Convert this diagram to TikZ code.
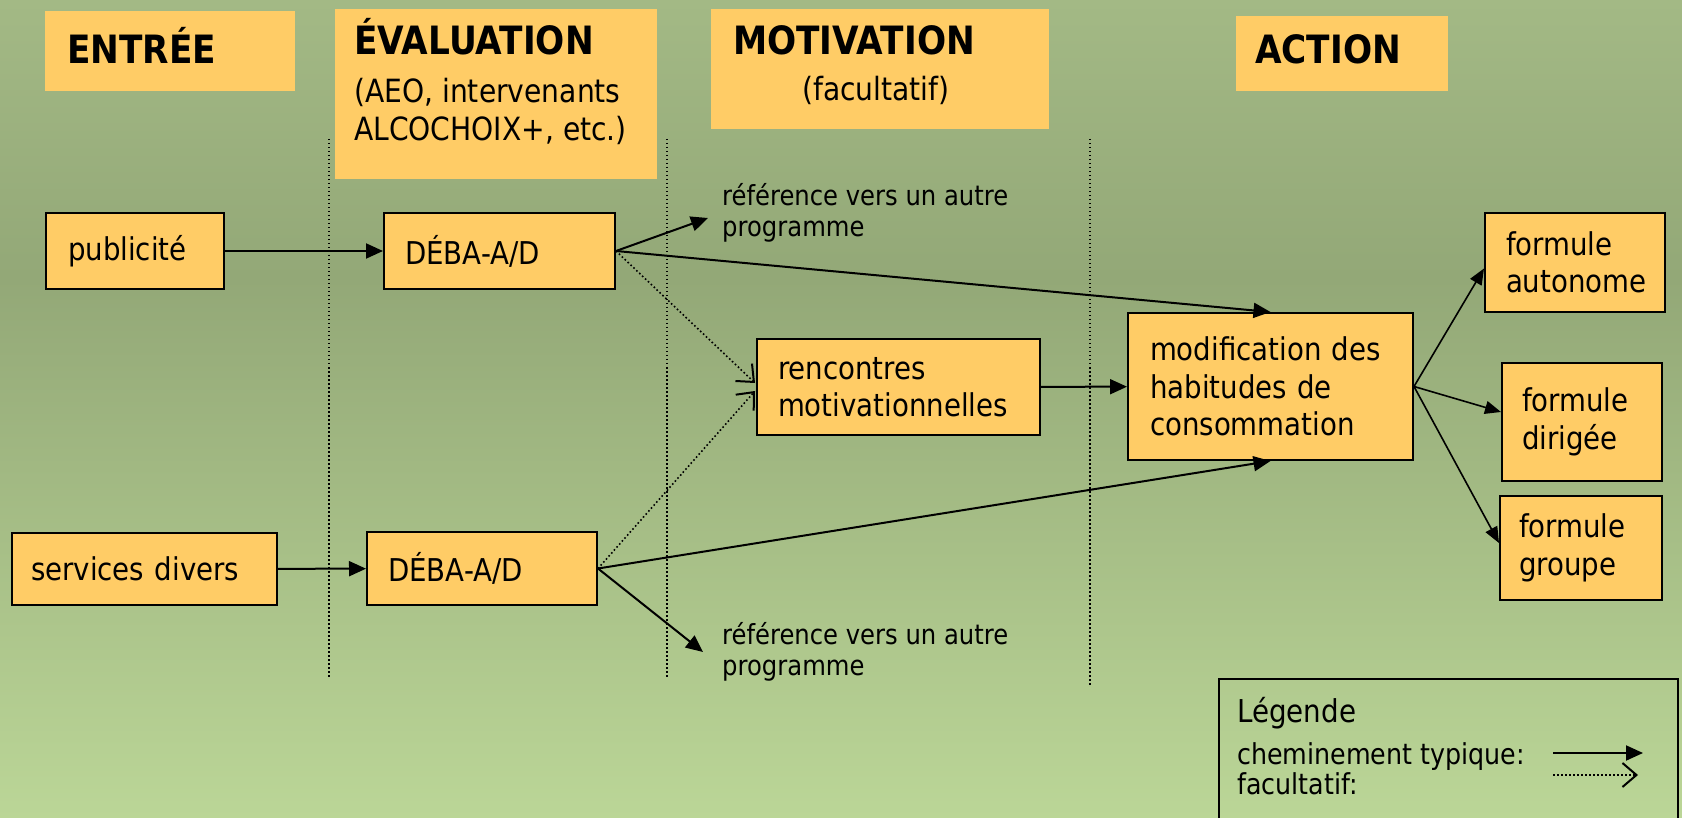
\documentclass[tikz,border=0pt]{standalone}
\usepackage{fontspec}
\setmainfont{DejaVu Sans}[FakeStretch=0.88]
\usetikzlibrary{arrows.meta,calc}
\definecolor{boxc}{HTML}{FFCC66}
\definecolor{bgT}{HTML}{A3B985}
\definecolor{bgM}{HTML}{93A877}
\definecolor{bgB}{HTML}{BBD697}
\pgfdeclareverticalshading{bgshade}{100bp}{color(0bp)=(bgB); color(25bp)=(bgB); color(58bp)=(bgM); color(75bp)=(bgT); color(100bp)=(bgT)}
\begin{document}
\begin{tikzpicture}[x=1pt,y=-1pt,
  box/.style={draw=black, line width=2pt, fill=boxc, anchor=north west, align=left, inner ysep=0pt, font=\fontsize{31.4}{37.5}\selectfont},
  hdr/.style={fill=boxc, anchor=north west, inner sep=0pt},
  hdrtxt/.style={anchor=base west, inner sep=0pt, font=\fontsize{39}{46}\selectfont\bfseries},
  subtxt/.style={anchor=base west, inner sep=0pt, font=\fontsize{32}{38}\selectfont},
  smalltxt/.style={anchor=base west, inner sep=0pt, font=\fontsize{27.6}{31}\selectfont},
  arr/.style={line width=2pt, -{Triangle[length=17pt,width=15pt]}},
  arrthin/.style={line width=1.6pt, -{Triangle[length=16pt,width=13pt]}},
  opt/.style={line width=1.6pt, dash pattern=on 1.6pt off 2.4pt, -{Straight Barb[length=14pt,width=24pt,line width=2pt]}},
  sep/.style={line width=1.5pt, dash pattern=on 1.5pt off 2.5pt}]
\useasboundingbox (0,0) rectangle (1682,818);
\clip (0,0) rectangle (1682,818);
\shade[shading=bgshade] (0,0) rectangle (1682,818);

% header boxes
\node[hdr, minimum width=250pt, minimum height=80pt] (hEntree) at (45,11) {};
\node[hdr, minimum width=322pt, minimum height=170pt] (hEval) at (335,9) {};
\node[hdr, minimum width=338pt, minimum height=120pt] (hMotiv) at (711,9) {};
\node[hdr, minimum width=212pt, minimum height=75pt] (hAction) at (1236,16) {};
\node[hdrtxt] (tEntree) at (67,64) {ENTRÉE};
\node[hdrtxt] (tEval) at (354,55) {ÉVALUATION};
\node[subtxt] (tEval2) at (354,102.5) {(AEO, intervenants};
\node[subtxt] (tEval3) at (354,140.5) {ALCOCHOIX+, etc.)};
\node[hdrtxt] (tMotiv) at (733,55) {MOTIVATION};
\node[subtxt, anchor=base] (tMotiv2) at (876,100.5) {(facultatif)};
\node[hdrtxt] (tAction) at (1255,64) {ACTION};

% separators
\coordinate (s1a) at (329,139); \coordinate (s1b) at (329,678);
\coordinate (s2a) at (667,139); \coordinate (s2b) at (667,678);
\coordinate (s3a) at (1090,139); \coordinate (s3b) at (1090,686);
\draw[sep] (s1a) -- (s1b);
\draw[sep] (s2a) -- (s2b);
\draw[sep] (s3a) -- (s3b);

% nodes
\node[box, minimum width=178pt, minimum height=76pt, text width=134pt, inner xsep=22pt] (pub) at (45,212) {publicité};
\node[box, minimum width=231pt, minimum height=76pt, text width=189pt, inner xsep=21pt] (deba1) at (383,212) {DÉBA-A/D};
\node[box, minimum width=283pt, minimum height=96pt, text width=241pt, inner xsep=21pt] (renc) at (756,338) {rencontres\\motivationnelles};
\node[box, minimum width=285pt, minimum height=147pt, text width=241pt, inner xsep=22pt] (modif) at (1127,312) {modification des\\habitudes de\\consommation};
\node[box, minimum width=180pt, minimum height=99pt, text width=138pt, inner xsep=21pt] (auto) at (1484,212) {formule\\autonome};
\node[box, minimum width=160pt, minimum height=118pt, text width=120pt, inner xsep=20pt] (dir) at (1501,362) {formule\\dirigée};
\node[box, minimum width=162pt, minimum height=104pt, text width=124pt, inner xsep=19pt] (grp) at (1499,495) {formule\\groupe};
\node[box, minimum width=265pt, minimum height=72pt, text width=227pt, inner xsep=19pt] (serv) at (11,532) {services divers};
\node[box, minimum width=230pt, minimum height=73pt, text width=188pt, inner xsep=21pt] (deba2) at (366,531) {DÉBA-A/D};

% reference texts
\node[smalltxt] (ref1a) at (722,206) {référence vers un autre};
\node[smalltxt] (ref1b) at (722,237) {programme};
\node[smalltxt] (ref2a) at (722,644) {référence vers un autre};
\node[smalltxt] (ref2b) at (722,675) {programme};
\coordinate (ref1tip) at (708,218);
\coordinate (ref2tip) at (703,652);

% connectors
\draw[arr] (pub) -- (deba1);
\draw[arr] (serv) -- (deba2);
\draw[arr] (deba1.east) -- (ref1tip);
\draw[arr] (deba1.east) -- (modif.north);
\draw[opt] (deba1.east) -- ($(renc.west)+(-1,-4)$);
\draw[opt] (deba2.east) -- ($(renc.west)+(-1,4)$);
\draw[arr] (deba2.east) -- (modif.south);
\draw[arr] (deba2.east) -- (ref2tip);
\draw[arr] (renc) -- (modif);
\draw[arrthin] (modif.east) -- ($(auto.west)+(0,6)$);
\draw[arrthin] (modif.east) -- ($(dir.west)+(0,-10)$);
\draw[arrthin] (modif.east) -- ($(grp.west)+(0,-5)$);

% legend
\node[draw=black, line width=2pt, anchor=north west, minimum width=459pt, minimum height=170pt, inner sep=0pt] (legend) at (1218,678) {};
\node[anchor=base west, inner sep=0pt, font=\fontsize{31.5}{36}\selectfont] (legT) at (1237,722) {Légende};
\node[anchor=base west, inner sep=0pt, font=\fontsize{28.8}{33}\selectfont] (legA) at (1237,764) {cheminement typique:};
\node[anchor=base west, inner sep=0pt, font=\fontsize{28.8}{33}\selectfont] (legB) at (1237,794) {facultatif:};
\coordinate (la1) at (1553,753); \coordinate (la2) at (1643,753);
\coordinate (lb1) at (1553,775); \coordinate (lb2) at (1638,775);
\draw[arr] (la1) -- (la2);
\draw[opt, line width=1.2pt] (lb1) -- (lb2);
\end{tikzpicture}
\end{document}
